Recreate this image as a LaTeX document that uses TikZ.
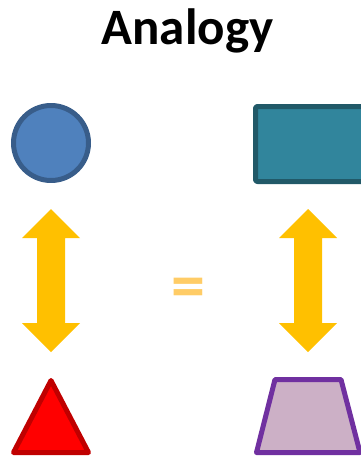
\documentclass[tikz,border=0pt]{standalone}
\usepackage{fontspec}
\setmainfont{Carlito}
\definecolor{circfill}{HTML}{4F81BD}
\definecolor{circline}{HTML}{385D8A}
\definecolor{rectfill}{HTML}{31859C}
\definecolor{rectline}{HTML}{215968}
\definecolor{arrowgold}{HTML}{FFC000}
\definecolor{eqorange}{HTML}{FFCC66}
\definecolor{trifill}{HTML}{FF0000}
\definecolor{triline}{HTML}{C00000}
\definecolor{trapfill}{HTML}{CCB0C6}
\definecolor{trapline}{HTML}{7030A0}
\tikzset{
  shapeline/.style={line width=5pt, line join=round},
  bigarrow/.style={fill=arrowgold, draw=none}
}
\begin{document}
\begin{tikzpicture}[x=1pt,y=-1pt]
 \useasboundingbox (0,0) rectangle (360,458);
 % title
 \node[font=\bfseries\fontsize{51}{52}\selectfont, anchor=base] (title) at (187.5,44) {Analogy};
 % top row
 \draw[shapeline, fill=circfill, draw=circline] (51,143) circle (37.5);
 \draw[shapeline, fill=rectfill, draw=rectline, rounded corners=2pt] (255.5,106.5) rectangle (366,181.5);
 % double arrows
 \foreach \c in {51,308}{
  \fill[bigarrow] (\c,209)--(\c+29,238)--(\c+14,238)--(\c+14,323)--(\c+29,323)--(\c,352)
   --(\c-29,323)--(\c-14,323)--(\c-14,238)--(\c-29,238)--cycle;
 }
 \node[text=eqorange, font=\bfseries\fontsize{68}{68}\selectfont] (equals) at (188,293) {=};
 % bottom row
 \draw[shapeline, fill=trifill, draw=triline] (51,380.5)--(88.5,452.5)--(13.5,452.5)--cycle;
 \draw[shapeline, fill=trapfill, draw=trapline] (275,379.5)--(341,379.5)--(360,452.5)--(256.5,452.5)--cycle;
\end{tikzpicture}
\end{document}
